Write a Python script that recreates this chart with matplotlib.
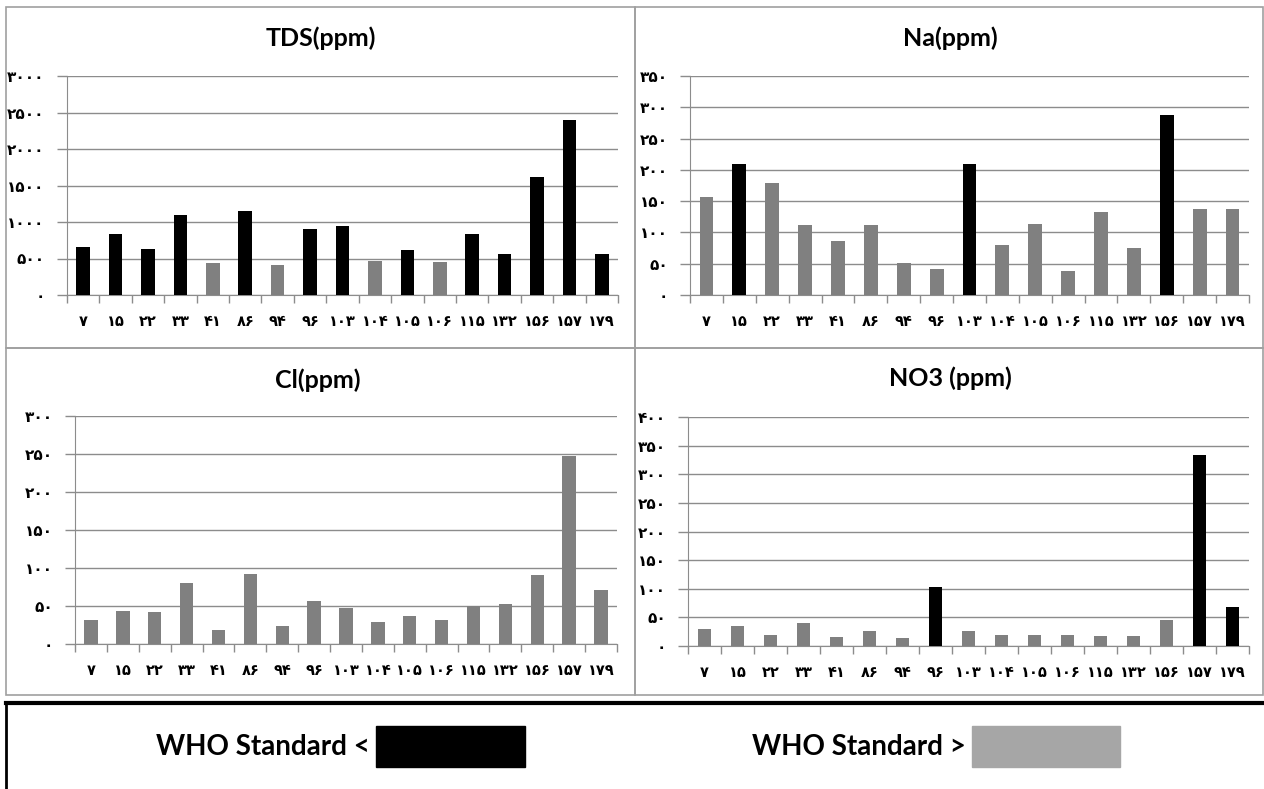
import matplotlib
matplotlib.use("Agg")
import matplotlib.pyplot as plt
from matplotlib.patches import Rectangle
from matplotlib.lines import Line2D

# sample numbers (x categories)
samples = [7, 15, 22, 33, 41, 86, 94, 96, 103, 104, 105, 106, 115, 132, 156, 157, 179]

tds = [656, 830, 629, 1098, 442, 1149, 415, 907, 944, 469, 611, 456, 830, 561, 1623, 2402, 561]
tds_over = [1, 1, 1, 1, 0, 1, 0, 1, 1, 0, 1, 0, 1, 1, 1, 1, 1]

na = [156, 210, 179, 112, 86, 112, 51, 42, 210, 80, 114, 38, 132, 75, 288, 138, 138]
na_over = [0, 1, 0, 0, 0, 0, 0, 0, 1, 0, 0, 0, 0, 0, 1, 0, 0]

cl = [31.5, 43, 42, 80, 19, 92, 24, 57, 48, 28.5, 37, 31.5, 50, 52, 91, 248, 71]
cl_over = [0] * 17

no3 = [30, 35.5, 19, 40, 15, 26, 13.5, 103, 27, 19, 19, 19, 17.5, 17.5, 46, 333, 68]
no3_over = [0, 0, 0, 0, 0, 0, 0, 1, 0, 0, 0, 0, 0, 0, 0, 1, 1]

W, H = 1264, 789
BLACK = "#000000"
GRAY = "#808080"
LEG_GRAY = "#a6a6a6"
GRID = "#8c8c8c"

fa_digits = str.maketrans("0123456789", "۰۱۲۳۴۵۶۷۸۹")


def fa(n):
    return str(n).translate(fa_digits)


fig = plt.figure(figsize=(W / 100, H / 100), dpi=100)


def px_box(x0, y0, x1, y1):
    return [x0 / W, 1 - y1 / H, (x1 - x0) / W, (y1 - y0) / H]


def panel(box, title, title_xy, values, over, ymax, step):
    ax = fig.add_axes(px_box(*box))
    x = list(range(len(samples)))
    colors = [BLACK if o else GRAY for o in over]
    ax.bar(x, values, width=0.42, color=colors, zorder=3)
    ax.set_xlim(-0.5, len(samples) - 0.5)
    ax.set_ylim(0, ymax)
    ax.set_yticks(range(0, ymax + 1, step))
    ax.set_yticklabels([fa(v) for v in range(0, ymax + 1, step)],
                       fontsize=11, fontweight="bold", family="DejaVu Sans")
    ax.set_xticks(x)
    ax.set_xticklabels([fa(s) for s in samples], fontsize=10.5,
                       fontweight="bold", family="DejaVu Sans")
    ax.set_xticks([i - 0.5 for i in range(len(samples) + 1)], minor=True)
    ax.tick_params(axis="x", which="major", length=0, pad=14)
    ax.tick_params(axis="x", which="minor", length=6, color=GRID, width=1)
    ax.tick_params(axis="y", length=7, color=GRID, width=1, pad=9)
    ax.grid(axis="y", color=GRID, linewidth=1, zorder=0)
    for s in ["top", "right"]:
        ax.spines[s].set_visible(False)
    ax.spines["left"].set_color(GRID)
    ax.spines["bottom"].set_color(GRID)
    ax.set_facecolor("none")
    fig.text(title_xy[0] / W, 1 - title_xy[1] / H, title, ha="center",
             va="center", fontsize=18, fontweight="bold", family="Lato")
    return ax


# panel frames
for (x0, y0, x1, y1) in [(6, 7, 635, 348), (635, 7, 1263, 348),
                         (6, 348, 635, 695), (635, 348, 1263, 695)]:
    fig.patches.append(Rectangle((x0 / W, 1 - y1 / H), (x1 - x0) / W, (y1 - y0) / H,
                                 transform=fig.transFigure, fill=False,
                                 edgecolor="#a0a0a0", linewidth=1.2))

panel((67, 76, 618, 295), "TDS(ppm)", (321, 38), tds, tds_over, 3000, 500)
panel((690, 76, 1249, 295), "Na(ppm)", (950, 38), na, na_over, 350, 50)
panel((75, 416, 617, 644), "Cl(ppm)", (318, 380), cl, cl_over, 300, 50)
panel((688, 417, 1249, 646), "NO3 (ppm)", (950, 378), no3, no3_over, 400, 50)

# legend box
fig.lines.append(Line2D([6 / W, 1], [1 - 703 / H] * 2, transform=fig.transFigure,
                        color="black", linewidth=3))
fig.lines.append(Line2D([6 / W, 6 / W], [1 - 703 / H, 0], transform=fig.transFigure,
                        color="black", linewidth=2))
fig.text(370 / W, 1 - 747 / H, "WHO Standard <", ha="right", va="center",
         fontsize=20, fontweight="bold", family="Lato")
fig.patches.append(Rectangle((376 / W, 1 - 767 / H), 149 / W, 41 / H,
                             transform=fig.transFigure, color=BLACK))
fig.text(966 / W, 1 - 747 / H, "WHO Standard >", ha="right", va="center",
         fontsize=20, fontweight="bold", family="Lato")
fig.patches.append(Rectangle((972 / W, 1 - 767 / H), 148 / W, 41 / H,
                             transform=fig.transFigure, color=LEG_GRAY))

fig.savefig("out.png", dpi=100, facecolor="white")
